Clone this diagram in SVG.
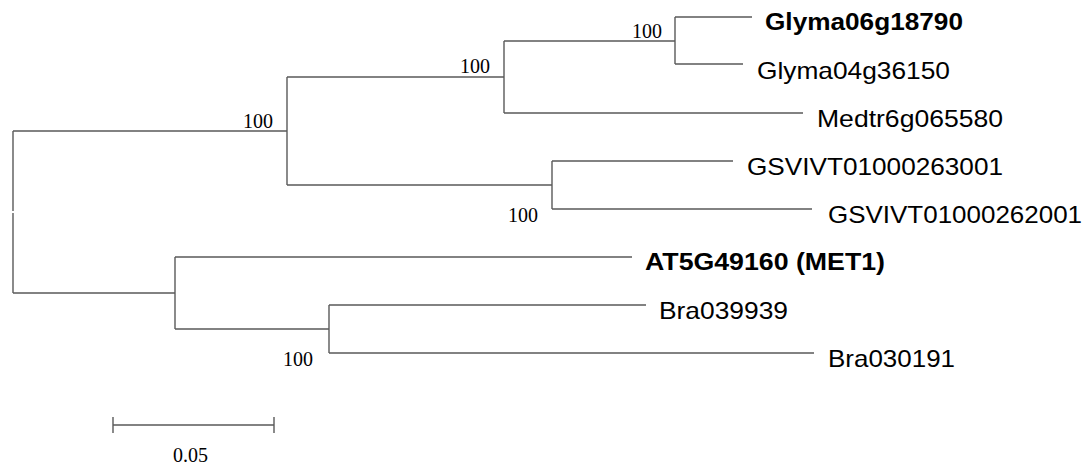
<svg xmlns="http://www.w3.org/2000/svg" width="1090" height="470" viewBox="0 0 1090 470">
<style>
.br{fill:none;stroke:#5a5a5a;stroke-width:1.4}
.lab{font-family:"Liberation Sans",Arial,sans-serif;font-size:24px;fill:#000}
.b{font-weight:bold}
.bs{font-family:"Liberation Serif","Times New Roman",serif;font-size:20px;fill:#000}
</style>
<rect width="1090" height="470" fill="#fff"/>
<g id="connectors">
<path class="br" d="M13,131 V211 M13,213 V293 M13,131 H287 M287,77 V185 M287,77 H504 M504,41 V113 M504,41 H675 M675,17 V64 M675,17 H752 M675,64 H743 M504,113 H803 M287,185 H552 M552,161 V209 M552,161 H733 M552,209 H812 M13,293 H175 M175,257 V329 M175,257 H632 M175,329 H329 M329,305 V353 M329,305 H646 M329,353 H814"/>
</g>
<g id="leaf-glyma06g18790"><text class="lab b" x="765" y="30" textLength="198" lengthAdjust="spacingAndGlyphs">Glyma06g18790</text></g>
<g id="leaf-glyma04g36150"><text class="lab" x="757" y="79" textLength="193" lengthAdjust="spacingAndGlyphs">Glyma04g36150</text></g>
<g id="leaf-medtr6g065580"><text class="lab" x="817" y="127" textLength="186" lengthAdjust="spacingAndGlyphs">Medtr6g065580</text></g>
<g id="leaf-gsvivt01000263001"><text class="lab" x="747" y="175" textLength="256" lengthAdjust="spacingAndGlyphs">GSVIVT01000263001</text></g>
<g id="leaf-gsvivt01000262001"><text class="lab" x="828" y="223" textLength="254" lengthAdjust="spacingAndGlyphs">GSVIVT01000262001</text></g>
<g id="leaf-at5g49160"><text class="lab b" x="645" y="270" textLength="240" lengthAdjust="spacingAndGlyphs">AT5G49160 (MET1)</text></g>
<g id="leaf-bra039939"><text class="lab" x="659" y="319" textLength="129" lengthAdjust="spacingAndGlyphs">Bra039939</text></g>
<g id="leaf-bra030191"><text class="lab" x="828" y="367" textLength="127" lengthAdjust="spacingAndGlyphs">Bra030191</text></g>
<g id="bootstrap">
<text class="bs" x="243" y="128">100</text>
<text class="bs" x="460" y="73">100</text>
<text class="bs" x="632" y="38">100</text>
<text class="bs" x="508" y="222">100</text>
<text class="bs" x="283" y="366">100</text>
</g>
<g id="scale-bar">
<path class="br" d="M113,425 H274 M113,417 V433 M274,417 V433"/>
<text class="bs" x="173" y="462">0.05</text>
</g>
</svg>
